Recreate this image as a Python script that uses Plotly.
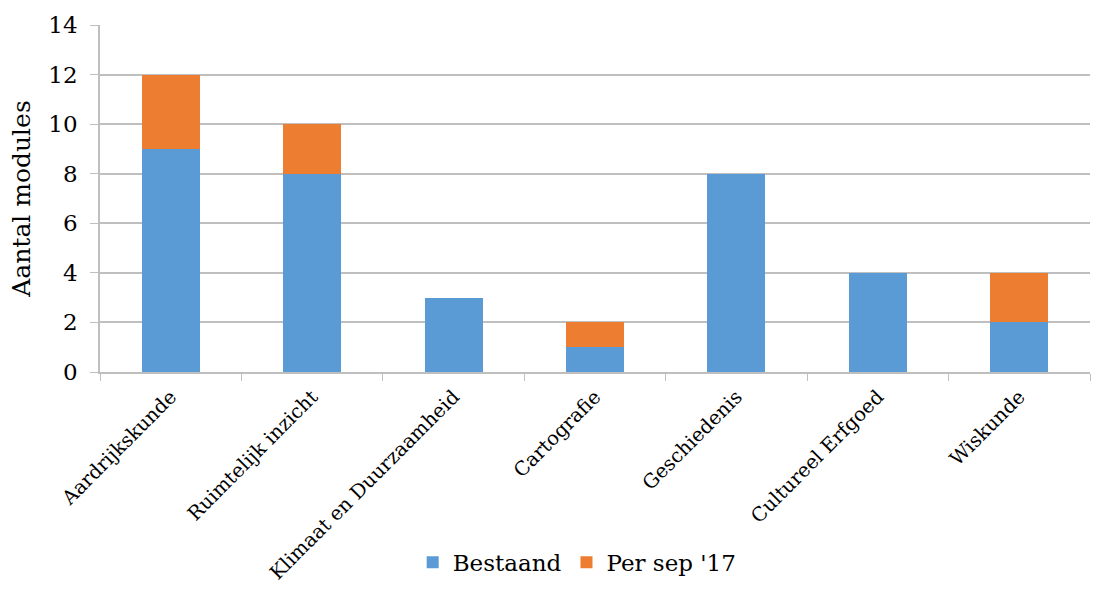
import plotly.graph_objects as go

categories = ["Aardrijkskunde", "Ruimtelijk inzicht", "Klimaat en Duurzaamheid",
              "Cartografie", "Geschiedenis", "Cultureel Erfgoed", "Wiskunde"]
bestaand = [9, 8, 3, 1, 8, 4, 2]
per_sep17 = [3, 2, 0, 1, 0, 0, 2]

FONT = "DejaVu Serif"
GRID = "#BFBFBF"

fig = go.Figure()
fig.add_trace(go.Bar(x=categories, y=bestaand, name="Bestaand",
                     marker=dict(color="#5B9BD5", line=dict(width=0))))
fig.add_trace(go.Bar(x=categories, y=per_sep17, name="Per sep '17",
                     marker=dict(color="#ED7D31", line=dict(width=0))))

fig.update_layout(
    barmode="stack",
    bargap=0.59,
    width=1102, height=592,
    margin=dict(l=100, r=12, t=25, b=220),
    plot_bgcolor="white", paper_bgcolor="white",
    font=dict(family=FONT, size=22, color="#000000"),
    legend=dict(orientation="h", x=0.482, xanchor="center", yref="container",
                y=0.05, yanchor="middle", itemwidth=30,
                font=dict(family=FONT, size=23), traceorder="normal"),
    xaxis=dict(tickangle=-45, showline=True, linecolor=GRID, linewidth=1.5,
               ticks="outside", tickson="boundaries", ticklen=7, tickcolor=GRID,
               ticklabelstandoff=4,
               tickfont=dict(family=FONT, size=19.5), showgrid=False, automargin=False),
    yaxis=dict(range=[0, 14], dtick=2, showgrid=True, gridcolor=GRID, gridwidth=1.5,
               showline=True, linecolor=GRID, linewidth=1.5, ticks="outside",
               ticklen=8, tickcolor=GRID, zeroline=False, ticklabelstandoff=8,
               tickfont=dict(family=FONT, size=23),
               title=dict(text="Aantal modules", font=dict(family=FONT, size=25), standoff=11)),
)

fig.write_html("out.html")
